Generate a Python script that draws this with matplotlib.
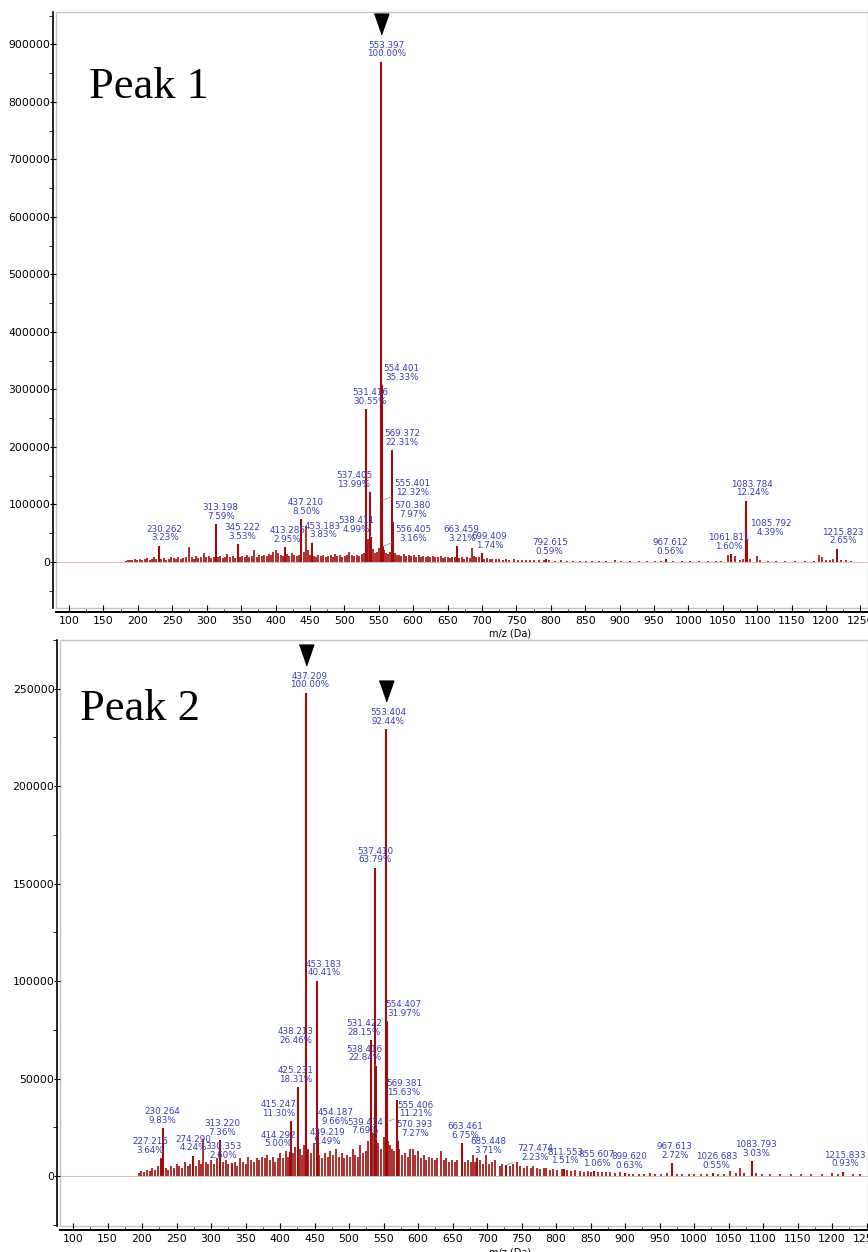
import matplotlib.pyplot as plt
import numpy as np
from matplotlib.patches import Rectangle
from matplotlib.transforms import offset_copy
from matplotlib.ticker import MultipleLocator

# ---------------- Peak 1 ----------------
# picchi etichettati: m/z e percentuale relativa al picco base
p1_mz = [553.397, 554.401, 531.416, 569.372, 537.405, 555.401, 570.380, 556.405,
         538.411, 453.183, 437.210, 413.285, 345.222, 313.198, 230.262, 663.459,
         699.409, 792.615, 967.612, 1061.811, 1083.784, 1085.792, 1215.823]
p1_pct = [100.00, 35.33, 30.55, 22.31, 13.99, 12.32, 7.97, 3.16,
          4.99, 3.83, 8.50, 2.95, 3.53, 7.59, 3.23, 3.21,
          1.74, 0.59, 0.56, 1.60, 12.24, 4.39, 2.65]
p1_base = 870000          # intensita' del picco al 100%
p1_marked = [553.397]     # picchi con il triangolo

# picchi minori (m/z, intensita' in migliaia)
p1_grass_mz = [182, 185, 189, 192, 196, 199, 203, 206, 210, 213, 217, 220, 224, 227, 234, 238,
               241, 245, 248, 252, 255, 259, 262, 266, 270, 274, 278, 281, 285, 288, 292, 296,
               299, 303, 306, 310, 316, 320, 323, 327, 330, 334, 338, 341, 348, 352, 355, 359,
               362, 366, 369, 373, 376, 380, 383, 387, 390, 394, 397, 401, 404, 408, 411, 417,
               420, 424, 427, 431, 434, 441, 444, 447, 450, 456, 459, 462, 466, 469, 473, 476,
               480, 483, 487, 490, 494, 497, 501, 504, 507, 511, 514, 518, 521, 525, 528, 533,
               535, 541, 544, 547, 550, 558, 561, 564, 567, 573, 576, 580, 583, 587, 590, 594,
               597, 601, 604, 608, 611, 615, 618, 622, 625, 629, 632, 636, 640, 643, 647, 650,
               654, 657, 661, 667, 671, 674, 678, 682, 685, 689, 692, 696, 703, 707, 711, 715,
               720, 725, 730, 735, 740, 746, 752, 758, 764, 770, 776, 783, 790, 798, 806, 815,
               824, 833, 842, 851, 860, 870, 880, 893, 902, 915, 928, 940, 952, 960, 978, 990,
               1002, 1015, 1028, 1040, 1048, 1057, 1068, 1075, 1080, 1090, 1100, 1104, 1115, 1128,
               1140, 1155, 1170, 1182, 1190, 1194, 1200, 1206, 1210, 1222, 1229, 1236]
p1_grass_k = [2, 3, 4, 3, 5, 4, 6, 3, 5, 7, 4, 5, 8, 6, 5, 7,
              4, 6, 9, 7, 5, 8, 6, 7, 9, 26, 8, 6, 10, 7, 9, 15,
              8, 10, 7, 9, 8, 11, 7, 9, 14, 8, 10, 7, 9, 11, 8, 13,
              9, 10, 21, 9, 12, 10, 13, 11, 14, 12, 17, 20, 15, 12, 10, 14,
              11, 16, 12, 10, 13, 18, 62, 20, 12, 11, 9, 12, 10, 13, 9, 11,
              12, 9, 14, 10, 12, 9, 11, 13, 18, 12, 10, 13, 11, 14, 16, 30,
              40, 22, 15, 18, 25, 20, 16, 14, 18, 15, 12, 13, 11, 14, 10, 12,
              10, 13, 9, 12, 8, 10, 9, 11, 8, 10, 9, 8, 10, 7, 9, 8,
              7, 9, 8, 7, 9, 6, 8, 7, 24, 11, 8, 9, 6, 7, 5, 6,
              5, 6, 4, 5, 4, 5, 4, 3, 4, 3, 3, 4, 3, 3, 2, 3,
              2, 2, 2, 2, 2, 1.5, 1.5, 3, 1.5, 1.5, 1.5, 1.5, 1.5, 2, 1.5, 1.5,
              1.5, 1.5, 1.5, 2, 2, 12, 11, 3, 5, 6, 10, 4, 2, 1.5,
              1.2, 1.2, 1.2, 1.5, 12, 8, 3, 4, 5, 3, 4, 1.5]

# ---------------- Peak 2 ----------------
p2_mz = [437.209, 553.404, 537.410, 453.183, 554.407, 531.422, 438.213, 538.416,
         425.231, 569.381, 415.247, 555.406, 454.187, 539.414, 313.220, 570.393,
         230.264, 227.216, 274.290, 330.353, 663.461, 439.219, 414.292, 685.448,
         727.474, 811.553, 855.607, 899.620, 967.613, 1026.683, 1083.793, 1215.833]
p2_pct = [100.00, 92.44, 63.79, 40.41, 31.97, 28.15, 26.46, 22.84,
          18.31, 15.63, 11.30, 11.21, 9.66, 7.69, 7.36, 7.27,
          9.83, 3.64, 4.24, 2.60, 6.75, 5.49, 5.00, 3.71,
          2.23, 1.51, 1.06, 0.63, 2.72, 0.55, 3.03, 0.93]
p2_base = 248000
p2_marked = [437.209, 553.404]

p2_grass_mz = [195, 199, 203, 207, 211, 215, 219, 223, 234, 238, 242, 246, 250, 254, 258, 262,
               266, 270, 278, 282, 286, 288, 292, 296, 300, 304, 308, 317, 321, 325, 334, 338,
               342, 346, 350, 354, 358, 362, 366, 370, 374, 378, 381, 385, 389, 393, 397, 400,
               404, 408, 411, 419, 422, 429, 432, 435, 441, 445, 449, 457, 461, 465, 469, 473,
               477, 481, 485, 489, 493, 497, 501, 505, 509, 513, 516, 520, 524, 527, 534, 542,
               546, 550, 557, 559, 562, 565, 573, 577, 581, 585, 588, 593, 596, 600, 604, 608,
               612, 616, 620, 624, 628, 633, 637, 641, 645, 649, 653, 657, 668, 672, 676, 679,
               683, 690, 694, 698, 703, 707, 712, 718, 722, 733, 738, 743, 748, 753, 758, 763,
               767, 772, 777, 782, 786, 791, 796, 801, 808, 816, 822, 828, 834, 840, 846, 851,
               860, 866, 872, 878, 885, 892, 905, 912, 920, 928, 936, 944, 952, 960, 975, 983,
               992, 1000, 1010, 1018, 1035, 1044, 1052, 1060, 1066, 1072, 1090, 1098, 1110, 1125,
               1140, 1155, 1170, 1185, 1200, 1208, 1230, 1240]
p2_grass_k = [1.5, 2.5, 2, 3, 2.5, 4, 3, 5, 4, 3, 5, 4, 6, 5, 4, 7,
              5, 6, 5, 8, 6, 19, 7, 6, 8, 6, 9, 7, 8, 6, 7, 5,
              9, 7, 6, 10, 8, 7, 9, 8, 10, 9, 11, 8, 10, 7, 9, 12,
              9, 13, 10, 12, 15, 14, 11, 16, 14, 12, 17, 11, 9, 12, 10, 13,
              11, 14, 10, 12, 9, 11, 10, 14, 11, 10, 16, 12, 13, 18, 22, 17,
              14, 20, 18, 16, 14, 13, 14, 11, 12, 10, 14, 14, 11, 13, 9, 11,
              8, 10, 9, 8, 9, 13, 8, 9, 7, 8, 7, 8, 7, 8, 7, 10.8,
              7, 8, 6, 10.8, 6, 7, 8, 5, 6, 5, 6, 7.2, 5, 4, 5, 4,
              5, 4, 3.5, 4, 4.3, 3, 3.5, 3, 3.4, 3, 2.5, 3, 2.5, 2, 2.5, 2,
              2, 1.8, 2, 1.8, 1.5, 1.8, 1.2, 1.2, 1.2, 1, 1.5, 1.2, 1, 1.5, 1.2, 1,
              1, 1, 1, 1, 1, 1.2, 2.6, 1.5, 4.3, 1.5, 1.5, 1, 1, 0.8,
              0.8, 0.8, 0.8, 1, 1.5, 1, 0.8, 0.8]

tick_mz = [100, 150, 200, 250, 300, 350, 400, 450, 500, 550, 600, 650, 700, 750, 800,
           850, 900, 950, 1000, 1050, 1100, 1150, 1200, 1250]

# spostamenti orizzontali delle etichette (pixel) rispetto al picco
p1_dx = [5, 20, 4, 10, -16, 30, 20, 30, -14, 11, 5, 3, 4, 5, 6, 5, 8, 4, 4, -2, 6, 23, 6]
p2_dx = [4, 2, 0, 7, 17, -7, -11, -11, -2, 7, -12, 28, 18, -11, 2, 17,
         -1, -11, 0, -9, 3, 20, -12, 11, 29, 1, 2, 4, 3, 4, 4, 2]

red = '#a00c0c'
blue = '#3c3cb4'


def disegna(ax, mz, pct, base, dx, grass_mz, grass_k, marked, ymaj, nome, xlim, ylim):
    inten = np.array(pct) / 100 * base
    ax.set_xlim(*xlim)
    ax.set_ylim(*ylim)
    ax.axhline(0, color='#d8b0b0', lw=0.6, zorder=1)
    ax.vlines(grass_mz, 0, np.array(grass_k) * 1000, color=red, lw=1.2, zorder=2)
    ax.vlines(mz, 0, inten, color=red, lw=1.5, zorder=3)

    for m, p, h, d in zip(mz, pct, inten, dx):
        arrow = None
        if abs(d) >= 8:
            arrow = dict(arrowstyle='-', color='#8c8cc8', lw=0.5, shrinkA=0, shrinkB=0)
        ax.annotate('%.3f\n%.2f%%' % (m, p), xy=(m, h), xytext=(d, 21),
                    textcoords='offset pixels', ha='center', va='top',
                    fontsize=6.3, color=blue, linespacing=0.95,
                    arrowprops=arrow, zorder=4)

    # triangoli neri sopra i picchi principali
    tr = offset_copy(ax.transData, fig=ax.figure, x=0, y=38, units='dots')
    for m in marked:
        h = inten[mz.index(m)]
        ax.plot([m], [h], marker=[(-0.35, 0.5), (0.35, 0.5), (0, -0.5)],
                markersize=15, color='black', transform=tr, clip_on=False)

    ax.text(0.0, 0.86, nome, transform=ax.transAxes, fontsize=32,
            family='Liberation Serif', va='baseline')

    # cornice grigia + assi neri spostati
    ax.add_patch(Rectangle((0, 0), 1, 1, transform=ax.transAxes, fill=False,
                           edgecolor='#c4c4c4', lw=1.0, clip_on=False))
    ax.spines['top'].set_visible(False)
    ax.spines['right'].set_visible(False)
    ax.spines['left'].set_position(('outward', 2.5))
    ax.spines['bottom'].set_position(('outward', 3))
    ax.spines['left'].set_linewidth(1.2)
    ax.spines['bottom'].set_linewidth(1.4)

    ax.set_xticks(tick_mz)
    ax.xaxis.set_minor_locator(MultipleLocator(25))
    ax.yaxis.set_major_locator(MultipleLocator(ymaj))
    ax.yaxis.set_minor_locator(MultipleLocator(ymaj / 2))
    ax.ticklabel_format(axis='y', style='plain', useOffset=False)
    ax.tick_params(axis='x', which='major', direction='in', length=5, pad=3, labelsize=7.8)
    ax.tick_params(axis='x', which='minor', direction='in', length=2.5)
    ax.tick_params(axis='y', which='major', direction='inout', length=5, pad=-1, labelsize=7.8)
    ax.tick_params(axis='y', which='minor', direction='out', length=3)
    ax.set_xlabel('m/z (Da)', fontsize=7, labelpad=-1)
    ax.xaxis.set_label_coords(0.559, -0.035)


fig = plt.figure(figsize=(8.68, 12.52), dpi=100)
ax1 = fig.add_axes([56 / 868, 1 - 608 / 1252, 812 / 868, 596 / 1252])
ax2 = fig.add_axes([60 / 868, 1 - 1226 / 1252, 808 / 868, 586 / 1252])

disegna(ax1, p1_mz, p1_pct, p1_base, p1_dx, p1_grass_mz, p1_grass_k, p1_marked,
        100000, 'Peak 1', (81, 1261), (-80000, 956500))
ax1.texts[-1].set_position((0.041, 0.856))

disegna(ax2, p2_mz, p2_pct, p2_base, p2_dx, p2_grass_mz, p2_grass_k, p2_marked,
        50000, 'Peak 2', (81, 1252), (-25650, 275000))
ax2.texts[-1].set_position((0.025, 0.8635))
ax2.xaxis.set_label_coords(0.557, -0.036)

fig.savefig('out.png', dpi=100)
